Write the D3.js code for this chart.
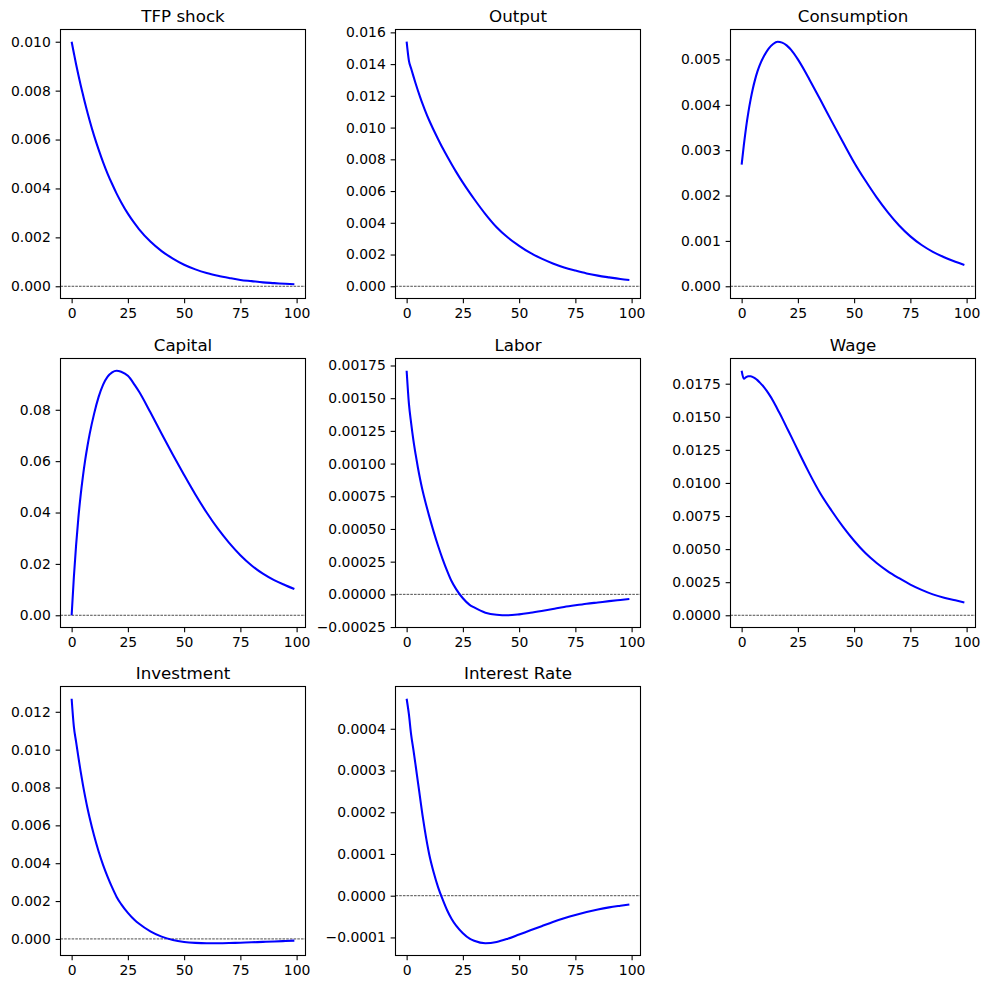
<!DOCTYPE html>
<html>
<head>
<meta charset="utf-8">
<script src="https://cdn.jsdelivr.net/npm/d3@7"></script>
<style>
body { margin: 0; background: #fff; }
svg text { font-family: "DejaVu Sans", sans-serif; fill: #000; }
</style>
</head>
<body>
<div id="irf_viz"></div>
<script>
// DATA
const periods = [0, 1, 2, 3, 4, 5, 6, 7, 8, 10, 12, 14, 16, 18, 20, 22, 25, 28, 30, 35, 40, 45, 50, 55, 60, 65, 70, 75, 80, 85, 90, 95, 99]

const tfpShock = [0.01000, 0.00953, 0.00907, 0.00864, 0.00823, 0.00785, 0.00747, 0.00712, 0.00678, 0.00615, 0.00559, 0.00507, 0.00460, 0.00418, 0.00379, 0.00344, 0.00297, 0.00257, 0.00233, 0.00183, 0.00144, 0.00113, 0.00088, 0.00069, 0.00054, 0.00043, 0.00034, 0.00026, 0.00021, 0.00016, 0.00013, 0.00010, 0.00008]

const output = [0.01541, 0.01422, 0.01372, 0.01324, 0.01278, 0.01234, 0.01192, 0.01152, 0.01115, 0.01046, 0.00985, 0.00927, 0.00871, 0.00819, 0.00769, 0.00721, 0.00653, 0.00590, 0.00550, 0.00455, 0.00372, 0.00307, 0.00255, 0.00210, 0.00174, 0.00144, 0.00119, 0.00099, 0.00081, 0.00067, 0.00056, 0.00046, 0.00040]

const consumption = [0.00268, 0.00312, 0.00351, 0.00384, 0.00412, 0.00436, 0.00456, 0.00473, 0.00487, 0.00508, 0.00524, 0.00534, 0.00539, 0.00537, 0.00531, 0.00521, 0.00500, 0.00475, 0.00457, 0.00411, 0.00364, 0.00318, 0.00273, 0.00233, 0.00196, 0.00163, 0.00134, 0.00110, 0.00091, 0.00076, 0.00064, 0.00054, 0.00047]

const capital = [0, 0.0150, 0.0275, 0.0380, 0.0467, 0.0540, 0.0603, 0.0657, 0.0705, 0.0785, 0.0850, 0.0898, 0.0929, 0.0946, 0.0952, 0.0948, 0.0932, 0.0897, 0.0870, 0.0790, 0.0707, 0.0625, 0.0546, 0.0470, 0.0400, 0.0337, 0.0282, 0.0234, 0.0194, 0.0162, 0.0137, 0.0117, 0.0102]

const labor = [0.00171, 0.00146, 0.00131, 0.00118, 0.00107, 0.00097, 0.00088, 0.00080, 0.00073, 0.00060, 0.00048, 0.00037, 0.00027, 0.00018, 0.00010, 0.00004, -0.00003, -0.00008, -0.00010, -0.00014, -0.000156, -0.00016, -0.000153, -0.000141, -0.000127, -0.000112, -0.000097, -0.000084, -0.000072, -0.000062, -0.000052, -0.000043, -0.000036]

const wage = [0.01848, 0.01787, 0.01800, 0.01806, 0.01806, 0.01800, 0.01790, 0.01777, 0.01760, 0.01722, 0.01675, 0.01620, 0.01555, 0.01490, 0.01420, 0.01352, 0.01247, 0.01143, 0.01076, 0.00920, 0.00790, 0.00670, 0.00563, 0.00470, 0.00395, 0.00332, 0.00280, 0.00232, 0.00192, 0.00158, 0.00133, 0.00113, 0.00097]

const investment = [0.01269, 0.01120, 0.01040, 0.00960, 0.00885, 0.00815, 0.00752, 0.00693, 0.00640, 0.00545, 0.00462, 0.00390, 0.00328, 0.00272, 0.00222, 0.00184, 0.00138, 0.00100, 0.00080, 0.00040, 0.00012, -0.00006, -0.00016, -0.00021, -0.00023, -0.00023, -0.00022, -0.00020, -0.00018, -0.000155, -0.000135, -0.000110, -0.000090]

const interestRate = [0.000472, 0.000435, 0.000386, 0.000350, 0.000312, 0.000273, 0.000234, 0.000195, 0.000160, 0.000100, 0.000056, 0.000020, -0.000009, -0.000035, -0.000056, -0.000072, -0.000090, -0.000103, -0.000108, -0.000114, -0.000111, -0.000103, -0.000093, -0.000083, -0.000073, -0.000063, -0.000054, -0.000046, -0.000039, -0.000033, -0.000028, -0.000024, -0.000021]

const titles = ["TFP shock", "Output", "Consumption", "Capital", "Labor", "Wage", "Investment", "Interest Rate"]
const series = [tfpShock, output, consumption, capital, labor, wage, investment, interestRate]

const xTicks = [0, 25, 50, 75, 100]
const yTicks = [
  [0, 0.002, 0.004, 0.006, 0.008, 0.010],
  [0, 0.002, 0.004, 0.006, 0.008, 0.010, 0.012, 0.014, 0.016],
  [0, 0.001, 0.002, 0.003, 0.004, 0.005],
  [0, 0.02, 0.04, 0.06, 0.08],
  [-0.00025, 0, 0.00025, 0.0005, 0.00075, 0.001, 0.00125, 0.0015, 0.00175],
  [0, 0.0025, 0.005, 0.0075, 0.01, 0.0125, 0.015, 0.0175],
  [0, 0.002, 0.004, 0.006, 0.008, 0.010, 0.012],
  [-0.0001, 0, 0.0001, 0.0002, 0.0003, 0.0004]
]
const yFormats = [".3f", ".3f", ".3f", ".2f", ".5f", ".4f", ".3f", ".4f"]

// LAYOUT
const width = 989, height = 989
const colLeft = [60.5, 395.5, 730.5]
const rowTop = [29.5, 358.5, 686.5]
const pw = 245, ph = 269

const svg = d3.select("#irf_viz")
  .append("svg")
  .attr("width", width)
  .attr("height", height)

svg.append("rect")
  .attr("width", width)
  .attr("height", height)
  .attr("fill", "#fff")

series.forEach((vals, i) => {
  const left = colLeft[i % 3]
  const top = rowTop[Math.floor(i / 3)]
  const data = periods.map((t, j) => ({ t: t, v: vals[j] }))

  const g = svg.append("g")
    .attr("transform", `translate(${left}, ${top})`)

  // SCALES (matplotlib-like 5% margins, zero line included)
  const xScale = d3.scaleLinear()
    .domain([-4.95, 103.95])
    .range([0, pw])

  const lo = Math.min(0, d3.min(vals)), hi = Math.max(0, d3.max(vals))
  const pad = (hi - lo) * 0.05
  const yScale = d3.scaleLinear()
    .domain([lo - pad, hi + pad])
    .range([ph, 0])

  g.append("clipPath")
    .attr("id", "clip" + i)
    .append("rect")
    .attr("width", pw)
    .attr("height", ph)

  // zero line
  g.append("line")
    .attr("x1", 0)
    .attr("x2", pw)
    .attr("y1", yScale(0))
    .attr("y2", yScale(0))
    .attr("stroke", "#000")
    .attr("stroke-width", 0.7)
    .attr("stroke-dasharray", "2.6,1.1")

  // IRF line
  const line = d3.line()
    .x(d => xScale(d.t))
    .y(d => yScale(d.v))
    .curve(d3.curveMonotoneX)

  g.append("path")
    .datum(data)
    .attr("clip-path", `url(#clip${i})`)
    .attr("d", line)
    .attr("fill", "none")
    .attr("stroke", "blue")
    .attr("stroke-width", 2.08)

  // AXES
  const xAxis = g.append("g")
    .attr("transform", `translate(0, ${ph})`)
    .call(d3.axisBottom(xScale).tickValues(xTicks).tickSize(4.86).tickPadding(4.9).tickFormat(d3.format("d")))
  const yAxis = g.append("g")
    .call(d3.axisLeft(yScale).tickValues(yTicks[i]).tickSize(4.86).tickPadding(4.9).tickFormat(d3.format(yFormats[i])))

  ;[xAxis, yAxis].forEach(ax => {
    ax.attr("font-size", 13.9).attr("font-family", "DejaVu Sans, sans-serif")
    ax.select(".domain").remove()
    ax.selectAll(".tick line").attr("stroke", "#000").attr("stroke-width", 1.1)
  })

  // spines
  g.append("rect")
    .attr("width", pw)
    .attr("height", ph)
    .attr("fill", "none")
    .attr("stroke", "#000")
    .attr("stroke-width", 1.1)

  // title
  g.append("text")
    .attr("x", pw / 2)
    .attr("y", -7.5)
    .attr("text-anchor", "middle")
    .attr("font-size", 16.7)
    .text(titles[i])
})
</script>
</body>
</html>
